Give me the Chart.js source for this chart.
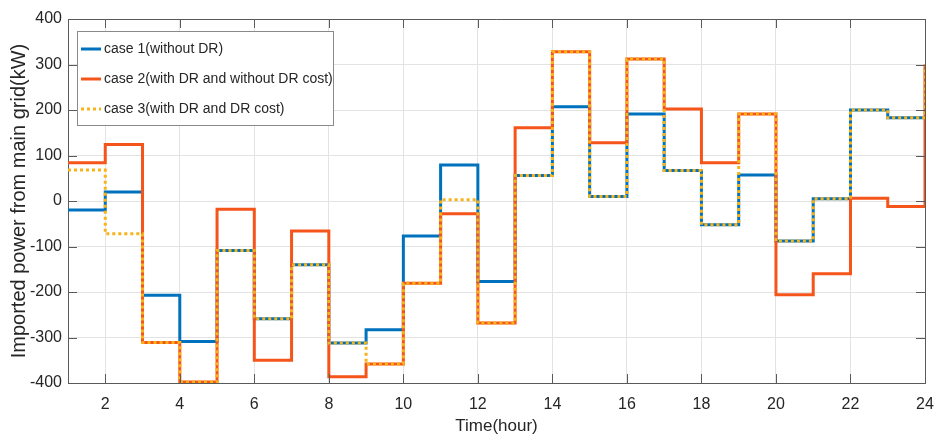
<!DOCTYPE html>
<html>
<head>
<meta charset="utf-8">
<script src="https://cdn.jsdelivr.net/npm/chart.js@4"></script>
<style>
  html, body { margin: 0; padding: 0; background: #fff; }
  #wrap { width: 935px; height: 439px; }
</style>
</head>
<body>
<div id="wrap"><canvas id="grid-chart"></canvas></div>
<script>
// hourly imported power, each value held until the next hour (stairs)
const hours = [1, 2, 3, 4, 5, 6, 7, 8, 9, 10, 11, 12, 13, 14, 15, 16, 17, 18, 19, 20, 21, 22, 23, 24];
const case1 = [-20, 20, -207, -309, -109, -259, -140, -312, -283, -77, 79, -177, 56, 207, 10, 191, 67, -52, 57, -88, 5, 200, 183, 183];
const case2 = [84, 124, -311, -398, -18, -350, -66, -386, -358, -181, -28, -268, 161, 328, 128, 312, 202, 84, 191, -206, -160, 6, -12, 300];
const case3 = [68, -72, -311, -398, -109, -259, -140, -312, -358, -181, 3, -268, 56, 328, 10, 312, 67, -52, 191, -88, 5, 200, 183, 300];

const xTicks = [2, 4, 6, 8, 10, 12, 14, 16, 18, 20, 22, 24];
const seriesNames = ['case 1(without DR)', 'case 2(with DR and without DR cost)', 'case 3(with DR and DR cost)'];

const BLUE = '#0072BD';
const ORANGE = '#F5541A';
const YELLOW = '#F8B318';
const FONT = '"Liberation Sans", Arial, sans-serif';

function toPoints(values) {
  return hours.map((h, i) => ({ x: h, y: values[i] }));
}

// box around the axes + inward tick marks on every side
const boxPlugin = {
  id: 'box',
  afterDraw(chart) {
    const { ctx, chartArea: a, scales } = chart;
    ctx.save();
    ctx.strokeStyle = '#5a5a5a';
    ctx.lineWidth = 1;
    ctx.beginPath();
    ctx.moveTo(a.left, a.top + 0.5);
    ctx.lineTo(a.right + 0.5, a.top + 0.5);
    ctx.lineTo(a.right + 0.5, a.bottom);
    ctx.stroke();
    ctx.beginPath();
    scales.x.ticks.forEach(t => {
      const px = Math.round(scales.x.getPixelForValue(t.value)) + 0.5;
      ctx.moveTo(px, a.bottom); ctx.lineTo(px, a.bottom - 9);
      ctx.moveTo(px, a.top); ctx.lineTo(px, a.top + 9);
    });
    scales.y.ticks.forEach(t => {
      const py = Math.round(scales.y.getPixelForValue(t.value)) + 0.5;
      ctx.moveTo(a.left, py); ctx.lineTo(a.left + 9, py);
      ctx.moveTo(a.right, py); ctx.lineTo(a.right - 9, py);
    });
    ctx.stroke();
    ctx.restore();
  }
};

// legend box in the upper left corner of the plot
const legendPlugin = {
  id: 'boxLegend',
  afterDraw(chart) {
    const { ctx, chartArea: a } = chart;
    const x = a.left + 9, y = a.top + 12, w = 256, h = 94;
    ctx.save();
    ctx.fillStyle = '#fff';
    ctx.fillRect(x, y, w, h);
    ctx.strokeStyle = '#8a8a8a';
    ctx.lineWidth = 1;
    ctx.strokeRect(x + 0.5, y + 0.5, w, h);
    const styles = [
      { color: BLUE, dash: [] },
      { color: ORANGE, dash: [] },
      { color: YELLOW, dash: [3, 3] }
    ];
    ctx.font = '14px ' + FONT;
    ctx.textBaseline = 'middle';
    seriesNames.forEach((name, i) => {
      const cy = y + 18 + i * 30;
      ctx.beginPath();
      ctx.setLineDash(styles[i].dash);
      ctx.strokeStyle = styles[i].color;
      ctx.lineWidth = 3;
      ctx.moveTo(x + 4, cy);
      ctx.lineTo(x + 24, cy);
      ctx.stroke();
      ctx.setLineDash([]);
      ctx.fillStyle = '#262626';
      ctx.fillText(name, x + 27, cy);
    });
    ctx.restore();
  }
};

const ctx = document.getElementById('grid-chart').getContext('2d');
const gridChart = new Chart(ctx, {
  type: 'line',
  data: {
    datasets: [{
      label: seriesNames[0],
      data: toPoints(case1),
      borderColor: BLUE,
      borderWidth: 3,
      stepped: true,
      order: 3
    }, {
      label: seriesNames[1],
      data: toPoints(case2),
      borderColor: ORANGE,
      borderWidth: 3,
      stepped: true,
      order: 2
    }, {
      label: seriesNames[2],
      data: toPoints(case3),
      borderColor: YELLOW,
      borderWidth: 3,
      borderDash: [3, 3],
      stepped: true,
      order: 1
    }]
  },
  options: {
    responsive: true,
    maintainAspectRatio: false,
    animation: false,
    layout: { padding: { top: 19, right: 10, left: 0, bottom: 0 } },
    elements: { point: { radius: 0, hoverRadius: 0 }, line: { tension: 0, fill: false } },
    plugins: { legend: { display: false }, tooltip: { enabled: false } },
    scales: {
      x: {
        type: 'linear',
        min: 1,
        max: 24,
        afterBuildTicks: scale => { scale.ticks = xTicks.map(v => ({ value: v })); },
        afterFit: scale => {
          scale.height = 56;
          scale.paddingLeft = 0;
          scale.paddingRight = 0;
        },
        grid: { color: '#e3e3e3', drawTicks: false },
        border: { color: '#5a5a5a' },
        ticks: { padding: 12, color: '#262626', font: { family: FONT, size: 16 }, maxRotation: 0 },
        title: {
          display: true,
          text: 'Time(hour)',
          color: '#262626',
          font: { family: FONT, size: 17 },
          padding: { top: 0, bottom: 2 }
        }
      },
      y: {
        min: -400,
        max: 400,
        afterFit: scale => { scale.width = 68; },
        grid: { color: '#e3e3e3', drawTicks: false },
        border: { color: '#5a5a5a' },
        ticks: { stepSize: 100, padding: 6, color: '#262626', font: { family: FONT, size: 16 } },
        title: {
          display: true,
          text: 'Imported power from main grid(kW)',
          color: '#262626',
          font: { family: FONT, size: 20 },
          padding: { top: 7, bottom: 0 }
        }
      }
    }
  },
  plugins: [boxPlugin, legendPlugin]
});
</script>
</body>
</html>
